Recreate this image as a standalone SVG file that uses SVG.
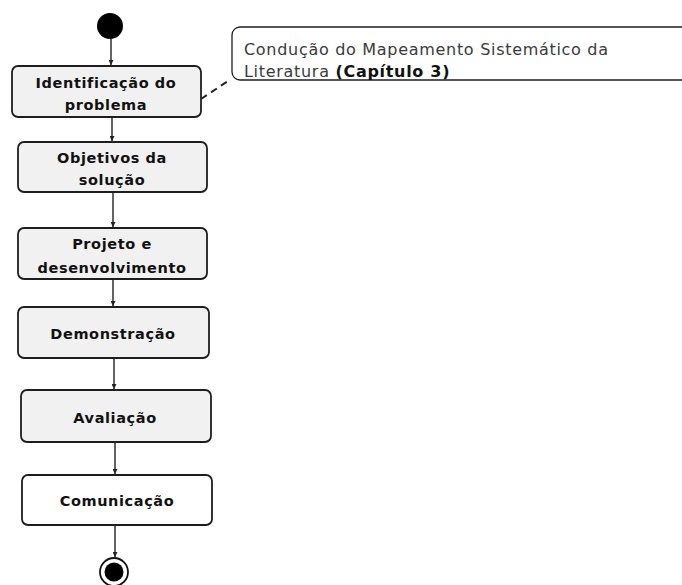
<svg xmlns="http://www.w3.org/2000/svg" width="682" height="585" viewBox="0 0 682 585">
  <style>
    .box { fill: #f1f1f1; stroke: #1e1e1e; stroke-width: 1.8; }
    .box.plain { fill: #ffffff; }
    .lbl { font-family: "DejaVu Sans", sans-serif; font-weight: bold; font-size: 14.5px; fill: #111; text-anchor: middle; letter-spacing: 0.6px; }
    .flow { stroke: #222; stroke-width: 1.4; fill: none; marker-end: url(#arrow); }
    .note { fill: #ffffff; stroke: #1e1e1e; stroke-width: 1.3; }
    .notetxt { font-family: "DejaVu Sans", sans-serif; font-size: 16px; fill: #3a3a3a; letter-spacing: 0.7px; }
  </style>
  <defs>
    <marker id="arrow" viewBox="0 0 8 8" refX="8" refY="4" markerWidth="5" markerHeight="5" orient="auto" markerUnits="userSpaceOnUse">
      <path d="M0,0 L8,4 L0,8 z" fill="#222"/>
    </marker>
  </defs>

  <rect width="682" height="585" fill="#ffffff"/>

  <!-- connectors -->
  <g id="connectors">
    <line class="flow" x1="111" y1="38" x2="111" y2="65"/>
    <line class="flow" x1="112" y1="117" x2="112" y2="141"/>
    <line class="flow" x1="113" y1="192" x2="113" y2="227"/>
    <line class="flow" x1="113" y1="279" x2="113" y2="306"/>
    <line class="flow" x1="114" y1="358" x2="114" y2="389"/>
    <line class="flow" x1="115" y1="442" x2="115" y2="474"/>
    <line class="flow" x1="115" y1="525" x2="115" y2="557"/>
    <line x1="201" y1="99" x2="231" y2="79" stroke="#222" stroke-width="2" stroke-dasharray="7,5"/>
  </g>

  <g id="start">
    <circle cx="110" cy="26" r="13" fill="#000"/>
  </g>

  <g id="identificacao">
    <rect class="box" x="12" y="66" width="189" height="51" rx="6"/>
    <text class="lbl" x="106" y="88">Identificação do</text>
    <text class="lbl" x="106" y="110">problema</text>
  </g>

  <g id="objetivos">
    <rect class="box" x="18" y="142" width="189" height="50" rx="6"/>
    <text class="lbl" x="112" y="163">Objetivos da</text>
    <text class="lbl" x="112" y="185">solução</text>
  </g>

  <g id="projeto">
    <rect class="box" x="18" y="228" width="189" height="51" rx="6"/>
    <text class="lbl" x="112" y="249">Projeto e</text>
    <text class="lbl" x="112" y="273">desenvolvimento</text>
  </g>

  <g id="demonstracao">
    <rect class="box" x="18" y="307" width="191" height="51" rx="6"/>
    <text class="lbl" x="113" y="339">Demonstração</text>
  </g>

  <g id="avaliacao">
    <rect class="box" x="21" y="390" width="190" height="52" rx="6"/>
    <text class="lbl" x="115" y="423">Avaliação</text>
  </g>

  <g id="comunicacao">
    <rect class="box plain" x="22" y="475" width="190" height="50" rx="6"/>
    <text class="lbl" x="117" y="506">Comunicação</text>
  </g>

  <g id="end">
    <circle cx="114" cy="572" r="14" fill="#fff" stroke="#111" stroke-width="1.8"/>
    <circle cx="114" cy="572" r="9.5" fill="#000"/>
  </g>

  <g id="nota">
    <rect class="note" x="232" y="27" width="470" height="53" rx="8"/>
    <text class="notetxt" x="244" y="55">Condução do Mapeamento Sistemático da</text>
    <text class="notetxt" x="244" y="77">Literatura <tspan font-weight="bold" fill="#111">(Capítulo 3)</tspan></text>
  </g>
</svg>
